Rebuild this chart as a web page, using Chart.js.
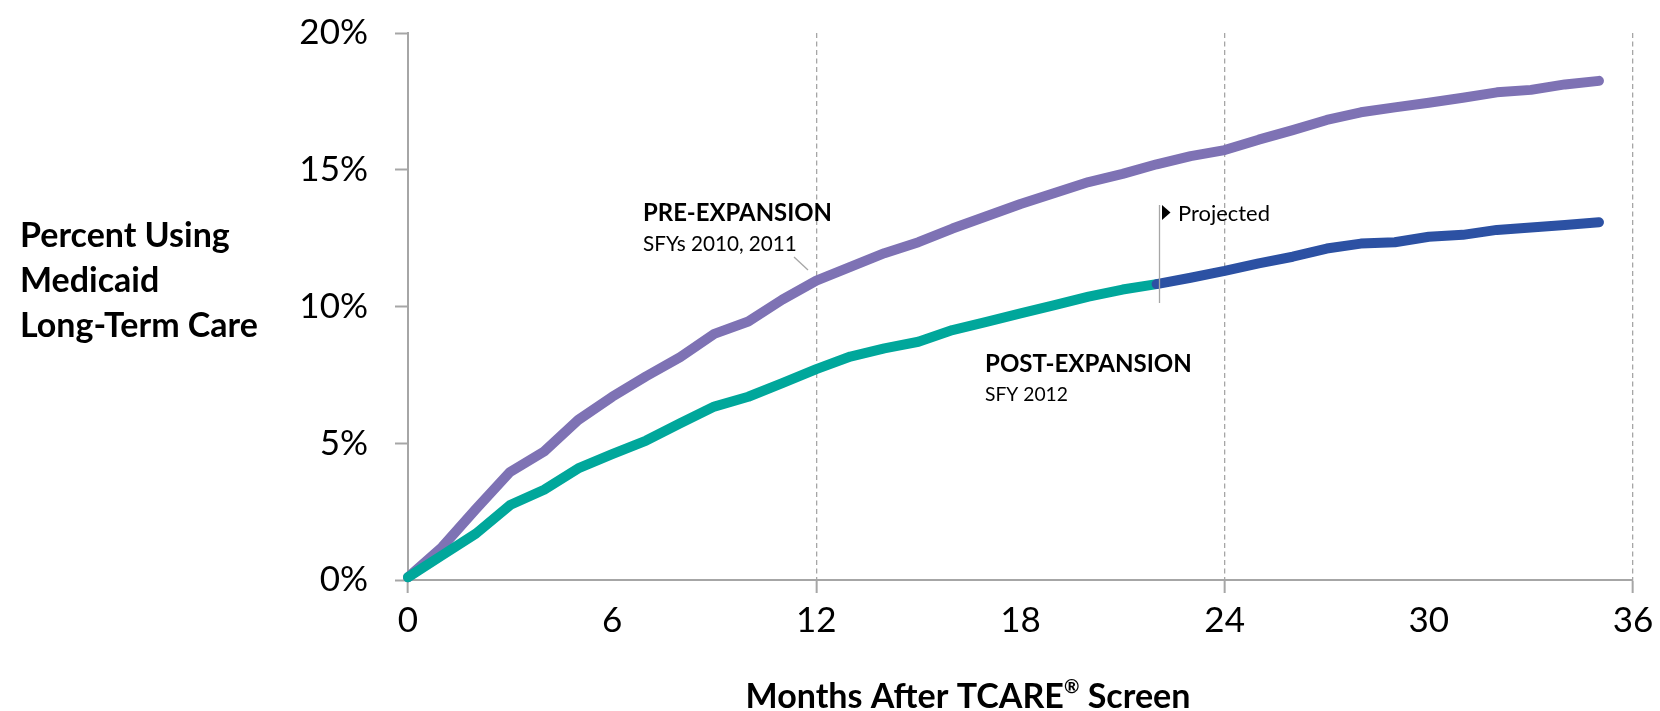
<!DOCTYPE html>
<html><head><meta charset="utf-8">
<script src="https://cdn.jsdelivr.net/npm/chart.js@4.4.1/dist/chart.umd.min.js"></script>
<style>html,body{margin:0;padding:0;background:#fff;overflow:hidden}canvas{display:block}</style>
</head><body>
<canvas id="c" width="1660" height="711"></canvas>
<script>
// ---- data ----
const months = [0,1,2,3,4,5,6,7,8,9,10,11,12,13,14,15,16,17,18,19,20,21,22,23,24,25,26,27,28,29,30,31,32,33,34,35];
const preExpansion = [0.1,1.2,2.6,3.95,4.7,5.85,6.7,7.45,8.15,9.0,9.45,10.25,10.95,11.45,11.95,12.35,12.85,13.3,13.75,14.15,14.55,14.85,15.2,15.5,15.72,16.1,16.45,16.82,17.1,17.28,17.45,17.63,17.83,17.92,18.12,18.25];
const postExpansion = [0.1,0.9,1.7,2.74,3.3,4.08,4.6,5.1,5.73,6.34,6.7,7.2,7.71,8.17,8.47,8.71,9.14,9.44,9.75,10.05,10.36,10.62,10.82];
const projectedMonths = [22,23,24,25,26,27,28,29,30,31,32,33,34,35];
const projected = [10.82,11.05,11.3,11.58,11.82,12.12,12.3,12.35,12.55,12.62,12.8,12.89,12.98,13.08];
const xTicks = [0,6,12,18,24,30,36];
const xMajor = [0,12,24,36];
const yTicks = [0,5,10,15,20];
const yTitleLines = ['Percent Using','Medicaid','Long-Term Care'];
const xTitleParts = ['Months After TCARE','®',' Screen'];
const preLabel = ['PRE-EXPANSION','SFYs 2010, 2011'];
const postLabel = ['POST-EXPANSION','SFY 2012'];
const projectedLabel = 'Projected';

// ---- styles ----
const FONT = 'Lato, "Open Sans", sans-serif';
const AXIS = '#A6A6A6';
const C_PRE = '#7E72B4', C_POST = '#00A79B', C_PROJ = '#2C51A3';

function fitSize(ctx, text, weight, target) {
  ctx.font = weight + ' 100px ' + FONT;
  return 100 * target / ctx.measureText(text).width;
}
function drawText(ctx, text, x, cy, size, weight, align) {
  ctx.font = weight + ' ' + size + 'px ' + FONT;
  ctx.textAlign = align || 'left';
  ctx.textBaseline = 'alphabetic';
  ctx.fillStyle = '#000';
  ctx.fillText(text, x, cy + size * 0.36);
}

const annotations = {
  id: 'annotations',
  afterDatasetsDraw(chart) {
    const ctx = chart.ctx;
    ctx.save();
    ctx.strokeStyle = AXIS; ctx.lineWidth = 1.3;
    ctx.beginPath(); ctx.moveTo(794, 257); ctx.lineTo(808, 270); ctx.stroke();
    ctx.beginPath(); ctx.moveTo(1159.5, 205); ctx.lineTo(1159.5, 303); ctx.stroke();
    ctx.fillStyle = '#000';
    ctx.beginPath(); ctx.moveTo(1162, 205); ctx.lineTo(1170.5, 212.5); ctx.lineTo(1162, 220); ctx.closePath(); ctx.fill();
    ctx.restore();
  },
  afterDraw(chart) {
    const ctx = chart.ctx;
    ctx.save();
    const ys = fitSize(ctx, yTitleLines[2], 'bold', 238);
    [235, 280, 325].forEach((cy, i) => drawText(ctx, yTitleLines[i], 20, cy, ys, 'bold'));
    ctx.font = 'bold 100px ' + FONT;
    const w0 = ctx.measureText(xTitleParts[0]).width, w2 = ctx.measureText(xTitleParts[2]).width;
    ctx.font = 'bold 55px ' + FONT;
    const w1 = ctx.measureText(xTitleParts[1]).width;
    const xs = 100 * 445 / (w0 + w1 + w2);
    const k = xs / 100;
    let x = 968 - 445 / 2;
    drawText(ctx, xTitleParts[0], x, 696, xs, 'bold'); x += w0 * k;
    drawText(ctx, xTitleParts[1], x, 696 - xs * 0.3, xs * 0.55, 'bold'); x += w1 * k;
    drawText(ctx, xTitleParts[2], x, 696, xs, 'bold');
    drawText(ctx, preLabel[0], 643, 212, fitSize(ctx, preLabel[0], 'bold', 189), 'bold');
    drawText(ctx, preLabel[1], 643, 244, fitSize(ctx, preLabel[1], 'normal', 154), 'normal');
    drawText(ctx, postLabel[0], 985, 363.5, fitSize(ctx, postLabel[0], 'bold', 207), 'bold');
    drawText(ctx, postLabel[1], 985, 394.5, fitSize(ctx, postLabel[1], 'normal', 83), 'normal');
    drawText(ctx, projectedLabel, 1178, 213.5, fitSize(ctx, projectedLabel, 'normal', 92), 'normal');
    ctx.restore();
  }
};

const lineStyle = { borderWidth: 10, pointRadius: 0, tension: 0, borderCapStyle: 'round', borderJoinStyle: 'round', clip: false, fill: false };

function build() {
  new Chart(document.getElementById('c'), {
    type: 'line',
    data: {
      datasets: [
        Object.assign({ label: 'Projected', data: projectedMonths.map((m, i) => ({ x: m, y: projected[i] })), borderColor: C_PROJ }, lineStyle),
        Object.assign({ label: 'Post-expansion', data: postExpansion.map((v, i) => ({ x: months[i], y: v })), borderColor: C_POST }, lineStyle),
        Object.assign({ label: 'Pre-expansion', data: preExpansion.map((v, i) => ({ x: months[i], y: v })), borderColor: C_PRE }, lineStyle)
      ]
    },
    options: {
      responsive: false,
      animation: false,
      events: [],
      layout: { padding: { left: 0, right: 27, top: 33, bottom: 0 } },
      plugins: { legend: { display: false }, tooltip: { enabled: false } },
      scales: {
        x: {
          type: 'linear', min: 0, max: 36,
          afterFit: s => { s.height = 131; s.paddingLeft = 0; s.paddingRight = 0; },
          afterBuildTicks: s => { s.ticks = xTicks.map(v => ({ value: v })); },
          ticks: { font: { family: FONT, size: 35 }, color: '#000', padding: 7, maxRotation: 0, autoSkip: false },
          grid: {
            drawOnChartArea: true, drawTicks: true, tickLength: 13, lineWidth: 1.3, tickWidth: 2,
            color: c => (c.tick && c.tick.value > 0 && xMajor.includes(c.tick.value)) ? AXIS : 'rgba(0,0,0,0)',
            tickColor: c => (c.tick && xMajor.includes(c.tick.value)) ? AXIS : 'rgba(0,0,0,0)',
            tickBorderDash: []
          },
          border: { display: true, color: AXIS, width: 2, dash: [5, 3.5] }
        },
        y: {
          min: 0, max: 20,
          afterFit: s => { s.width = 408; s.paddingTop = 0; s.paddingBottom = 0; },
          afterBuildTicks: s => { s.ticks = yTicks.map(v => ({ value: v })); },
          ticks: { font: { family: FONT, size: 35 }, color: '#000', padding: 27, callback: v => v + '%' },
          grid: { drawOnChartArea: false, drawTicks: true, tickLength: 13, tickWidth: 2, tickColor: AXIS, color: AXIS },
          border: { display: true, color: AXIS, width: 2 }
        }
      }
    },
    plugins: [annotations]
  });
}
Promise.all([
  document.fonts.load('36px Lato'), document.fonts.load('bold 30px Lato')
]).then(build, build);
</script>
</body></html>
